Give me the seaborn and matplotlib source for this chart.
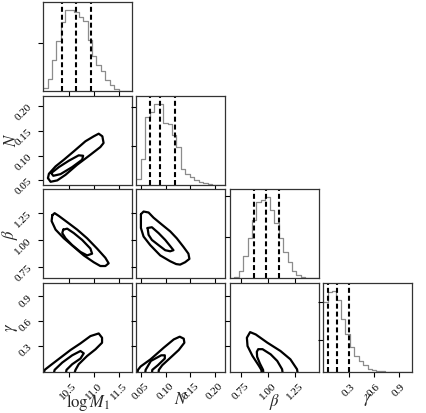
import numpy as np
import pandas as pd
import matplotlib
matplotlib.use("Agg")
import matplotlib.pyplot as plt
import seaborn as sns

sns.set_style("ticks")
plt.rcParams['font.family'] = ['Liberation Serif', 'DejaVu Serif']
plt.rcParams['mathtext.fontset'] = 'stix'

# parameters
labels = [r"$\log M_1$", r"$N$", r"$\beta$", r"$\gamma$"]
ranges = [(10.0, 11.75), (0.041, 0.221), (0.647, 1.47), (-0.015, 1.062)]
ticks = [[10.5, 11.0, 11.5], [0.05, 0.10, 0.15, 0.20], [0.75, 1.00, 1.25], [0.3, 0.6, 0.9]]
tick_labels = [["10.5", "11.0", "11.5"], ["0.05", "0.10", "0.15", "0.20"],
               ["0.75", "1.00", "1.25"], ["0.3", "0.6", "0.9"]]

# 1D marginal histograms, 20 bins over each range
hist_logM1 = [10, 35, 90, 145, 200, 234, 234, 230, 214, 202, 147, 102, 77, 57, 32, 17, 7, 2, 0.5, 0]
hist_N = [17, 77, 197, 212, 237, 237, 182, 177, 147, 112, 47, 32, 22, 14, 7, 4, 2, 1, 0, 0]
hist_beta = [1, 4, 22, 67, 117, 172, 224, 230, 237, 200, 162, 117, 77, 47, 22, 10, 4, 2, 0, 0]
hist_gamma = [207, 237, 239, 214, 157, 112, 74, 47, 32, 20, 10, 6, 4, 2, 1, 0, 0, 0, 0, 0]

# 16/50/84 percentiles
q_logM1 = [10.38, 10.65, 10.95]
q_N = [0.0676, 0.0892, 0.1182]
q_beta = [0.871, 0.984, 1.103]
q_gamma = [0.0455, 0.150, 0.304]

# unlabeled count ticks on the diagonal panels
yt_logM1 = [139]
yt_N = [115, 229]
yt_beta = [120, 240]
yt_gamma = [94, 206]

# 2D contour outlines (inner / outer credible regions)
c_N_logM1_out = ([10.095, 10.114, 10.245, 10.408, 10.604, 10.833, 10.996, 11.094, 11.166, 11.19,
                  11.127, 10.931, 10.67, 10.441, 10.278, 10.147, 10.095],
                 [0.0547, 0.0634, 0.0783, 0.0917, 0.1087, 0.129, 0.139, 0.1443, 0.139, 0.1255,
                  0.1174, 0.1018, 0.0816, 0.0613, 0.050, 0.0472, 0.0547])
c_N_logM1_in = ([10.16, 10.31, 10.506, 10.70, 10.788, 10.768, 10.572, 10.343, 10.20, 10.16],
                [0.0648, 0.0769, 0.0897, 0.1006, 0.0998, 0.0917, 0.0769, 0.0627, 0.0593, 0.0648])

c_beta_logM1_out = ([10.18, 10.226, 10.31, 10.474, 10.67, 10.866, 11.062, 11.225, 11.29, 11.225,
                     11.127, 10.996, 10.80, 10.604, 10.408, 10.245, 10.167, 10.18],
                    [1.231, 1.25, 1.224, 1.167, 1.098, 1.018, 0.923, 0.838, 0.787, 0.762,
                     0.762, 0.797, 0.86, 0.939, 1.018, 1.098, 1.177, 1.231])
c_beta_logM1_in = ([10.396, 10.474, 10.604, 10.768, 10.931, 10.964, 10.866, 10.735, 10.572,
                    10.441, 10.377, 10.396],
                   [1.098, 1.107, 1.066, 1.003, 0.923, 0.876, 0.86, 0.892, 0.955,
                    1.018, 1.066, 1.098])

c_gamma_logM1_out = ([10.0, 10.03, 10.147, 10.343, 10.539, 10.735, 10.931, 11.094, 11.16, 11.16,
                      11.03, 10.866, 10.70, 10.637, 10.60],
                     [-0.06, 0.012, 0.068, 0.16, 0.252, 0.332, 0.42, 0.452, 0.40, 0.34,
                      0.26, 0.18, 0.08, 0.012, -0.06])
c_gamma_logM1_in = ([10.20, 10.226, 10.376, 10.572, 10.735, 10.80, 10.735, 10.572, 10.46, 10.44],
                    [-0.06, 0.012, 0.10, 0.188, 0.24, 0.212, 0.149, 0.08, 0.012, -0.06])

c_beta_N_out = ([0.05, 0.0554, 0.0655, 0.0756, 0.0923, 0.1093, 0.1226, 0.1361, 0.1462, 0.1482,
                 0.1395, 0.1294, 0.1214, 0.1093, 0.0891, 0.0689, 0.0554, 0.05, 0.05, 0.05],
                [1.24, 1.265, 1.256, 1.208, 1.145, 1.082, 1.018, 0.939, 0.876, 0.828,
                 0.797, 0.775, 0.78, 0.806, 0.86, 0.955, 1.034, 1.113, 1.193, 1.24])
c_beta_N_in = ([0.0635, 0.0722, 0.0857, 0.0992, 0.1093, 0.1159, 0.1093, 0.0992, 0.0857, 0.0722,
                0.0655, 0.0635],
               [1.113, 1.12, 1.066, 1.003, 0.946, 0.908, 0.898, 0.908, 0.955, 1.003,
                1.05, 1.113])

c_gamma_N_out = ([0.042, 0.044, 0.0494, 0.0696, 0.0964, 0.1165, 0.1286, 0.1367, 0.138, 0.1266,
                  0.1099, 0.0931, 0.0863, 0.085],
                 [-0.06, 0.012, 0.053, 0.14, 0.281, 0.38, 0.413, 0.389, 0.34, 0.252,
                  0.16, 0.068, 0.012, -0.06])
c_gamma_N_in = ([0.058, 0.0595, 0.0702, 0.0911, 0.0984, 0.0984, 0.0843, 0.073, 0.072],
                [-0.06, 0.012, 0.12, 0.188, 0.188, 0.149, 0.068, 0.012, -0.06])

c_gamma_beta_out = ([0.945, 0.939, 0.917, 0.857, 0.811, 0.805, 0.835, 0.887, 0.994, 1.116,
                     1.2075, 1.269, 1.28],
                    [-0.06, 0.012, 0.06, 0.18, 0.30, 0.40, 0.468, 0.44, 0.341, 0.24,
                     0.14, 0.02, -0.06])
c_gamma_beta_in = ([0.96, 0.955, 0.925, 0.90, 0.897, 0.91, 0.95, 1.025, 1.086, 1.131, 1.14],
                   [-0.06, 0.012, 0.09, 0.17, 0.23, 0.262, 0.262, 0.20, 0.12, 0.02, -0.06])

hists = [hist_logM1, hist_N, hist_beta, hist_gamma]
quants = [q_logM1, q_N, q_beta, q_gamma]
hist_yticks = [yt_logM1, yt_N, yt_beta, yt_gamma]
contours = {
    (1, 0): [c_N_logM1_out, c_N_logM1_in],
    (2, 0): [c_beta_logM1_out, c_beta_logM1_in],
    (3, 0): [c_gamma_logM1_out, c_gamma_logM1_in],
    (2, 1): [c_beta_N_out, c_beta_N_in],
    (3, 1): [c_gamma_N_out, c_gamma_N_in],
    (3, 2): [c_gamma_beta_out, c_gamma_beta_in],
}

n = len(labels)
fig, axes = plt.subplots(n, n, figsize=(4.27, 4.13), dpi=100)
fig.subplots_adjust(left=0.101, right=0.965, bottom=0.099, top=0.995, wspace=0.05, hspace=0.05)

for i in range(n):
    for j in range(n):
        ax = axes[i, j]
        if j > i:
            ax.set_axis_off()
            continue
        ax.tick_params(direction="out", length=3.5, width=0.8, labelsize=8, colors="k")
        for s in ax.spines.values():
            s.set_linewidth(0.9)
            s.set_color("0.2")
        if i == j:
            lo, hi = ranges[i]
            nb = len(hists[i])
            centers = lo + (np.arange(nb) + 0.5) * (hi - lo) / nb
            df = pd.DataFrame({"x": centers, "w": hists[i]})
            sns.histplot(data=df, x="x", weights="w", bins=nb, binrange=(lo, hi),
                         element="step", fill=False, color="0.55", linewidth=0.9, ax=ax)
            for q in quants[i]:
                ax.axvline(q, color="k", lw=1.5, ls=(0, (2.4, 1.4)))
            ax.set_xlim(lo, hi)
            ax.set_ylim(0, 1.1 * max(hists[i]))
            ax.set_yticks(hist_yticks[i])
            ax.set_yticklabels([])
            ax.set_ylabel("")
        else:
            for xs, ys in contours[(i, j)]:
                sns.lineplot(x=xs, y=ys, sort=False, estimator=None, color="k", lw=1.6, ax=ax)
            ax.set_xlim(*ranges[j])
            ax.set_ylim(*ranges[i])
            ax.set_yticks(ticks[i])
            if j == 0:
                ax.set_yticklabels(tick_labels[i], rotation=45)
                ax.set_ylabel(labels[i], fontsize=12)
                ax.yaxis.set_label_coords(-0.26, 0.5)
            else:
                ax.set_yticklabels([])
                ax.set_ylabel("")
        ax.set_xticks(ticks[j])
        if i == n - 1:
            ax.set_xticklabels(tick_labels[j], rotation=45)
            ax.set_xlabel(labels[j], fontsize=12)
            ax.xaxis.set_label_coords(0.5, -0.22)
        else:
            ax.set_xticklabels([])
            ax.set_xlabel("")

fig.savefig("out.png", dpi=100)
